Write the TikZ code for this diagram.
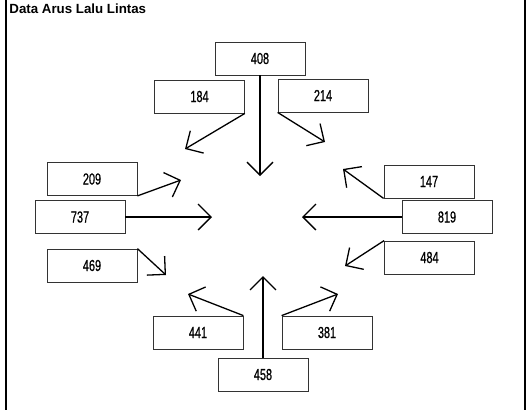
\documentclass[tikz,border=0pt]{standalone}
\usepackage{fontspec}
\setmainfont{Liberation Sans}
\newfontfamily\narrowfont[FakeStretch=0.68, FakeBold=0.6]{Liberation Sans}
\usepackage{tikz}
\usetikzlibrary{arrows.meta, calc}

\begin{document}
\begin{tikzpicture}[
    x = 1pt, y = -1pt,
    thick,
    flow/.style = {rectangle,
      draw = black!80,
      line width = 0.8pt,
      inner sep = 0pt,
      minimum width = 90pt,
      minimum height = 33pt,
      font = \narrowfont\fontsize{16}{16}\selectfont},
    arus/.style = {line width = 1.3pt,
      -{Straight Barb[length = 13pt, width = 26pt, line width = 1.3pt]}}
    ]

    \useasboundingbox (0, 0) rectangle (526, 410);
    \draw [line width = 2pt] (6, 0) -- (6, 410);
    \draw [line width = 2pt] (525, 0) -- (525, 410);

    \node at (9, 13.5) [anchor = base west, font = \bfseries\fontsize{13.3}{13.3}\selectfont,
      inner sep = 0pt, name = title] {Data Arus Lalu Lintas};

    \node at (260, 58.5) [flow, name = U] {408};
    \node at (199.5, 96.5) [flow, name = UL] {184};
    \node at (323, 95.5) [flow, name = UR] {214};
    \node at (92, 179) [flow, name = BL] {209};
    \node at (80, 217) [flow, name = B] {737};
    \node at (92, 265.5) [flow, name = BD] {469};
    \node at (429, 181.5) [flow, name = TL] {147};
    \node at (447, 217) [flow, name = T] {819};
    \node at (429.5, 257.5) [flow, name = TD] {484};
    \node at (198, 332.5) [flow, name = SL] {441};
    \node at (327, 332.5) [flow, name = SR] {381};
    \node at (263, 374.5) [flow, name = S] {458};

    % ujung panah
    \coordinate (uU) at (260, 176);
    \coordinate (uUL) at (185, 149);
    \coordinate (uUR) at (325, 142);
    \coordinate (uBL) at (181, 180);
    \coordinate (uB) at (212, 217);
    \coordinate (uBD) at (166, 275);
    \coordinate (uTL) at (343, 169);
    \coordinate (uT) at (302, 217);
    \coordinate (uTD) at (345, 266);
    \coordinate (uSL) at (188, 294);
    \coordinate (uSR) at (338, 294);
    \coordinate (uS) at (263, 276);

    \draw [arus] (U.south) to (uU);
    \draw [arus] (UL.south east) to (uUL);
    \draw [arus] (UR.south west) to (uUR);
    \draw [arus] (BL.south east) to (uBL);
    \draw [arus] (B.east) to (uB);
    \draw [arus] (BD.north east) to (uBD);
    \draw [arus] (TL.south west) to (uTL);
    \draw [arus] (T.west) to (uT);
    \draw [arus] (TD.north west) to (uTD);
    \draw [arus] (SL.north east) to (uSL);
    \draw [arus] (SR.north west) to (uSR);
    \draw [arus] (S.north) to (uS);

  \end{tikzpicture}
\end{document}
